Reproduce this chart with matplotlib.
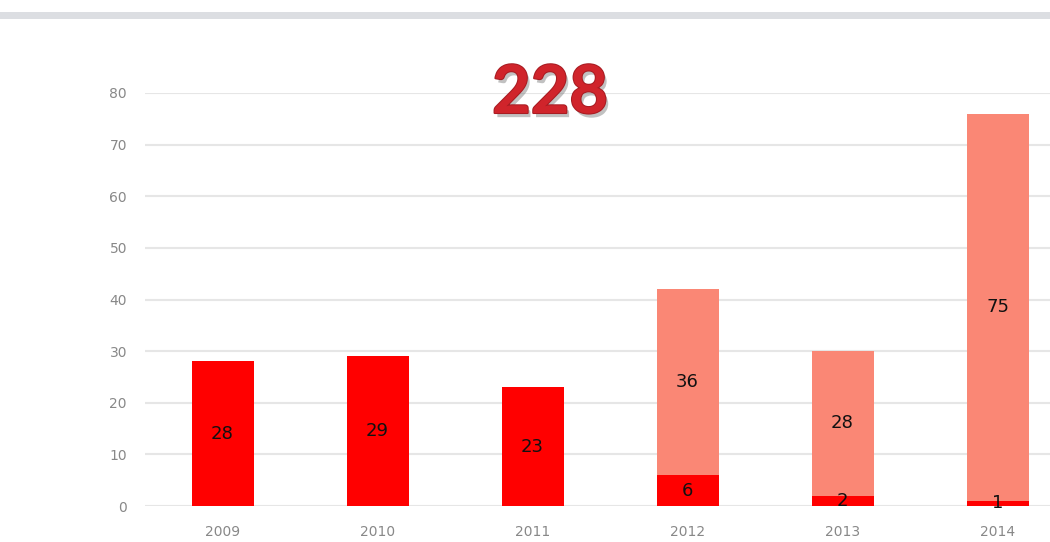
"""Stacked yearly counts with a big total above the bars."""

import matplotlib

matplotlib.use("Agg")
import matplotlib.pyplot as plt
import matplotlib.patheffects as pe
from matplotlib.patches import Rectangle

years = ["2009", "2010", "2011", "2012", "2013", "2014"]
lower_counts = [28, 29, 23, 6, 2, 1]
upper_counts = [0, 0, 0, 36, 28, 75]
total_label = "228"

LOWER_COLOR = "#ff0000"
UPPER_COLOR = "#fa8775"


def main() -> None:
    fig = plt.figure(figsize=(10.5, 5.42), dpi=100)
    ax = fig.add_axes([145 / 1050, 36 / 542, 905 / 1050, 413 / 542])

    # grey strip along the top of the page
    fig.patches.append(
        Rectangle((0, 1 - 19 / 542), 1, 7 / 542, transform=fig.transFigure,
                  facecolor="#dcdee2", edgecolor="none")
    )

    x = list(range(len(years)))
    ax.bar(x, lower_counts, width=0.4, color=LOWER_COLOR, zorder=3)
    ax.bar(x, upper_counts, width=0.4, bottom=lower_counts, color=UPPER_COLOR, zorder=3)

    for xi, low, up in zip(x, lower_counts, upper_counts):
        if low:
            ax.text(xi, low / 2, str(low), ha="center", va="center",
                    fontsize=13, color="#111111", zorder=4)
        if up:
            ax.text(xi, low + up / 2, str(up), ha="center", va="center",
                    fontsize=13, color="#111111", zorder=4)

    ax.set_xlim(-0.5, 905 / 155 - 0.5)
    ax.set_ylim(0, 80)
    ax.set_yticks(range(0, 81, 10))
    ax.set_xticks(x)
    ax.set_xticklabels(years)
    ax.tick_params(axis="both", length=0, labelsize=10, labelcolor="#888888")
    ax.tick_params(axis="y", pad=13)
    ax.tick_params(axis="x", pad=14)
    ax.grid(axis="y", color="#e6e6e6", linewidth=1.5, zorder=0)
    ax.set_axisbelow(True)
    for spine in ax.spines.values():
        spine.set_visible(False)

    fig.text(550 / 1050, 1 - 94 / 542, total_label, ha="center", va="center",
             fontsize=48, fontweight="bold", family="Lato", color="#d0242b",
             path_effects=[pe.withSimplePatchShadow(offset=(2, -3), shadow_rgbFace="#666666", alpha=0.4),
                           pe.Stroke(linewidth=1.5, foreground="#a81c22"), pe.Normal()])

    plt.savefig("out.png", dpi=100)
    plt.close()


if __name__ == "__main__":
    main()
